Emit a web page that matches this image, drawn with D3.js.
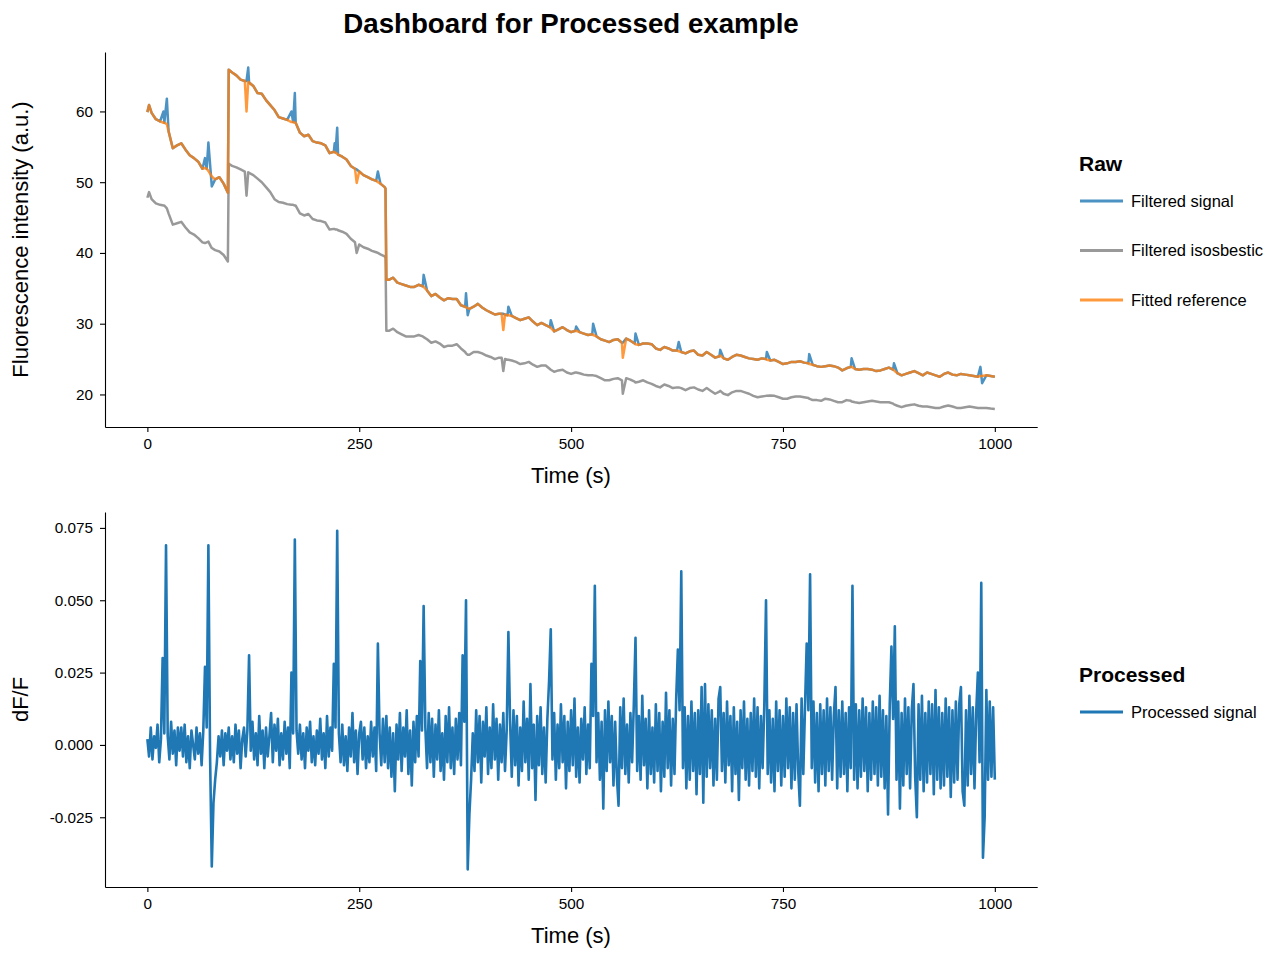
<!DOCTYPE html>
<html>
<head>
<meta charset="utf-8">
<script src="https://cdn.jsdelivr.net/npm/d3@7"></script>
<style>
  body { margin: 0; background: #fff; }
  svg { font-family: "Liberation Sans", Arial, Helvetica, sans-serif; }
</style>
</head>
<body>
<svg id="dashboard"></svg>
<script>
// ---- raw panel (time in s, values in a.u.) ----
const rawTime = [
  0, 2, 5, 10, 15, 19, 20, 23, 25, 30, 35, 40, 45,
  50, 55, 60, 65, 68, 70, 72, 75, 76, 80, 85, 90, 95, 96,
  100, 105, 110, 115, 117, 119, 120, 125, 130, 135, 140, 145,
  150, 155, 160, 165, 170, 172, 174, 175, 180, 185, 190, 195,
  200, 205, 210, 215, 220, 221, 222, 224, 225, 230, 235, 240, 245, 247,
  250, 255, 260, 265, 270, 272, 275, 280, 281, 282, 285, 290, 295,
  300, 305, 310, 315, 320, 325, 326, 330, 335, 340, 345,
  350, 355, 360, 365, 370, 375, 376, 378, 380, 385, 390, 395,
  400, 405, 410, 415, 418, 420, 422, 425, 426, 430, 435, 440, 445,
  450, 455, 460, 465, 470, 475, 476, 480, 485, 490, 495,
  500, 505, 506, 510, 515, 520, 525, 526, 530, 535, 540, 545,
  550, 555, 560, 561, 565, 570, 575, 576, 580, 585, 590, 595,
  600, 605, 610, 615, 620, 625, 627, 630, 635, 640, 645,
  650, 655, 660, 665, 670, 675, 676, 680, 685, 690, 695,
  700, 705, 710, 715, 720, 725, 730, 731, 735, 740, 745,
  750, 755, 760, 765, 770, 775, 780, 781, 785, 790, 795,
  800, 805, 810, 815, 820, 825, 830, 831, 835, 840, 845,
  850, 855, 860, 865, 870, 875, 880, 881, 885, 890, 895,
  900, 905, 910, 915, 920, 925, 930, 935, 940, 945,
  950, 955, 960, 965, 970, 975, 980, 983, 985, 990, 995, 1000
];

const filteredSignal = [
  59.9, 60.9, 59.8, 58.9, 58.6, 60.0, 58.4, 61.8, 57.2, 54.8, 55.2, 55.5, 54.6,
  53.8, 53.4, 52.9, 51.9, 53.4, 51.9, 55.6, 51.0, 49.4, 50.4, 50.7, 49.8, 48.5, 65.9,
  65.5, 65.1, 64.5, 64.3, 64.3, 66.2, 64.1, 63.6, 62.6, 62.5, 61.6, 60.9,
  60.2, 59.2, 59.0, 58.8, 60.0, 58.5, 62.6, 58.4, 57.0, 56.5, 56.7, 55.8,
  55.6, 55.5, 55.2, 54.1, 54.3, 55.5, 54.2, 57.7, 53.9, 53.6, 53.2, 52.3, 51.9, 51.8,
  51.5, 51.0, 50.7, 50.4, 50.2, 51.5, 49.8, 49.3, 49.1, 36.2, 36.2, 36.5, 35.8,
  35.6, 35.4, 35.2, 35.2, 35.5, 35.3, 36.9, 34.7, 33.9, 34.2, 33.7,
  33.3, 33.6, 33.5, 33.5, 32.6, 32.4, 34.3, 31.2, 32.1, 32.4, 32.8, 32.3,
  31.9, 31.6, 31.3, 31.4, 31.4, 31.4, 31.3, 31.2, 32.4, 31.1, 30.8, 30.5, 30.7,
  30.9, 30.3, 29.8, 30.1, 29.8, 29.5, 30.5, 28.9, 29.2, 29.5, 29.1,
  28.8, 29.0, 29.6, 28.8, 28.6, 28.4, 28.5, 30.0, 28.2, 27.8, 27.6, 27.4,
  27.7, 27.8, 27.3, 27.3, 27.9, 27.6, 27.2, 28.6, 27.0, 27.2, 27.2, 27.1,
  26.5, 26.3, 26.7, 26.5, 26.2, 26.2, 27.4, 26.0, 25.8, 26.1, 26.2,
  25.6, 25.5, 26.0, 25.6, 25.2, 25.4, 26.3, 25.1, 24.9, 25.3, 25.6,
  25.5, 25.3, 25.1, 25.0, 24.9, 25.1, 25.0, 26.0, 24.8, 24.9, 24.6,
  24.3, 24.4, 24.6, 24.6, 24.7, 24.5, 24.4, 25.7, 24.2, 24.0, 23.9,
  24.0, 24.1, 24.0, 23.8, 23.4, 23.7, 23.9, 25.1, 23.6, 23.5, 23.6,
  23.6, 23.5, 23.3, 23.4, 23.6, 23.8, 23.5, 24.4, 23.0, 22.7, 22.9,
  23.1, 23.3, 23.0, 22.7, 23.1, 22.9, 22.7, 22.5, 22.9, 23.1,
  22.8, 22.7, 22.9, 22.8, 22.7, 22.6, 22.5, 23.9, 21.6, 22.7, 22.6, 22.5
];

const filteredIsosbestic = [
  47.8, 48.6, 47.6, 47.0, 46.8, 46.7, 46.7, 46.3, 45.6, 44.0, 44.2, 44.4, 43.6,
  42.9, 42.6, 42.1, 41.5, 41.4, 41.5, 41.6, 40.9, 40.7, 40.4, 40.2, 39.7, 38.8, 52.6,
  52.3, 52.1, 51.8, 51.5, 48.1, 51.4, 51.3, 51.0, 50.5, 50.0, 49.3, 48.6,
  47.6, 47.2, 47.1, 46.9, 46.8, 46.8, 46.7, 46.7, 45.6, 45.3, 45.5, 44.8,
  44.6, 44.5, 44.3, 43.3, 43.4, 43.4, 43.3, 43.3, 43.2, 43.0, 42.7, 42.0, 41.5, 40.0,
  41.2, 40.8, 40.6, 40.3, 40.1, 40.0, 39.8, 39.5, 39.3, 29.0, 29.0, 29.3, 28.8,
  28.5, 28.2, 28.2, 28.2, 28.4, 28.2, 28.1, 27.8, 27.3, 27.5, 27.2,
  26.7, 26.9, 26.9, 27.1, 26.5, 26.0, 25.8, 25.6, 25.6, 26.0, 26.0, 25.8,
  25.5, 25.3, 25.0, 25.2, 25.2, 23.3, 25.0, 24.9, 24.9, 24.8, 24.6, 24.3, 24.4,
  24.6, 24.2, 23.9, 24.1, 24.1, 23.6, 23.5, 23.2, 23.4, 23.5, 23.1,
  22.9, 23.1, 23.1, 23.0, 22.8, 22.7, 22.7, 22.7, 22.6, 22.3, 22.0, 22.0,
  22.2, 22.3, 22.0, 20.1, 22.3, 22.1, 21.8, 21.7, 21.8, 22.0, 21.7, 21.5,
  21.2, 21.0, 21.4, 21.2, 20.9, 21.0, 21.0, 20.9, 20.6, 20.9, 21.0,
  20.7, 20.5, 20.9, 20.5, 20.1, 20.4, 20.5, 20.1, 19.9, 20.3, 20.5,
  20.5, 20.3, 20.1, 19.8, 19.6, 19.7, 19.8, 19.8, 19.85, 19.8, 19.6,
  19.4, 19.4, 19.6, 19.7, 19.7, 19.6, 19.5, 19.4, 19.2, 19.2, 19.1,
  19.4, 19.3, 19.1, 18.9, 18.9, 19.2, 19.1, 19.0, 18.9, 18.8, 18.9,
  19.0, 19.1, 19.0, 18.9, 18.9, 18.9, 18.7, 18.6, 18.4, 18.2, 18.4,
  18.5, 18.6, 18.4, 18.3, 18.3, 18.2, 18.1, 18.1, 18.3, 18.45,
  18.3, 18.1, 18.1, 18.2, 18.3, 18.2, 18.1, 18.1, 18.1, 18.1, 18.0, 17.95
];

const fittedReference = [
  59.9, 60.9, 59.8, 58.9, 58.6, 58.4, 58.4, 58.2, 57.2, 54.8, 55.2, 55.5, 54.6,
  53.8, 53.4, 52.9, 51.9, 52.0, 51.9, 51.6, 51.0, 50.8, 50.4, 50.7, 49.8, 48.5, 65.9,
  65.5, 65.1, 64.5, 64.3, 60.0, 64.2, 64.1, 63.6, 62.6, 62.5, 61.6, 60.9,
  60.2, 59.2, 59.0, 58.8, 58.5, 58.5, 58.4, 58.4, 57.0, 56.5, 56.7, 55.8,
  55.6, 55.5, 55.2, 54.1, 54.3, 54.2, 54.2, 54.0, 53.9, 53.6, 53.2, 52.3, 51.9, 49.9,
  51.5, 51.0, 50.7, 50.4, 50.2, 50.0, 49.8, 49.3, 49.1, 36.2, 36.2, 36.5, 35.8,
  35.6, 35.4, 35.2, 35.2, 35.5, 35.3, 35.2, 34.7, 33.9, 34.2, 33.7,
  33.3, 33.6, 33.5, 33.5, 32.6, 32.4, 32.3, 32.2, 32.1, 32.4, 32.8, 32.3,
  31.9, 31.6, 31.3, 31.4, 31.4, 29.1, 31.3, 31.2, 31.2, 31.1, 30.8, 30.5, 30.7,
  30.9, 30.3, 29.8, 30.1, 29.8, 29.5, 29.4, 28.9, 29.2, 29.5, 29.1,
  28.8, 29.0, 29.0, 28.8, 28.6, 28.4, 28.5, 28.4, 28.2, 27.8, 27.6, 27.4,
  27.7, 27.8, 27.3, 25.2, 27.9, 27.6, 27.2, 27.1, 27.0, 27.2, 27.2, 27.1,
  26.5, 26.3, 26.7, 26.5, 26.2, 26.2, 26.1, 26.0, 25.8, 26.1, 26.2,
  25.6, 25.5, 26.0, 25.6, 25.2, 25.4, 25.5, 25.1, 24.9, 25.3, 25.6,
  25.5, 25.3, 25.1, 25.0, 24.9, 25.1, 25.0, 24.9, 24.8, 24.9, 24.6,
  24.3, 24.4, 24.6, 24.6, 24.7, 24.5, 24.4, 24.3, 24.2, 24.0, 23.9,
  24.0, 24.1, 24.0, 23.8, 23.4, 23.7, 23.9, 23.9, 23.6, 23.5, 23.6,
  23.6, 23.5, 23.3, 23.4, 23.6, 23.8, 23.5, 23.4, 23.0, 22.7, 22.9,
  23.1, 23.3, 23.0, 22.7, 23.1, 22.9, 22.7, 22.5, 22.9, 23.1,
  22.8, 22.7, 22.9, 22.8, 22.7, 22.6, 22.5, 22.6, 22.6, 22.7, 22.6, 22.5
];

// ---- processed panel: one dF/F sample every 2 s from 0 to 1000 s ----
const processedStep = 2;
const processedSignal = [
  0.002, -0.004, 0.006, -0.005, 0.003, -0.001, 0.007, -0.006, 0.002, 0.030,
  0.004, 0.069, 0.003, -0.005, 0.008, -0.003, 0.005, -0.007, 0.006, -0.002,
  0.006, -0.004, 0.007, -0.006, 0.003, -0.008, 0.005, 0.000, -0.005, 0.006,
  -0.003, 0.004, -0.007, 0.005, 0.027, 0.006, 0.069, -0.004, -0.042, -0.020,
  -0.012, -0.006, 0.003, -0.004, 0.005, -0.007, 0.004, -0.002, 0.006, -0.005,
  0.003, -0.006, 0.007, -0.003, 0.005, -0.008, 0.002, 0.006, -0.004, 0.005,
  0.031, -0.002, 0.008, -0.005, 0.004, -0.007, 0.010, -0.003, 0.005, -0.008,
  0.006, -0.004, 0.003, 0.011, -0.006, 0.007, -0.002, 0.009, -0.007, 0.004,
  -0.005, 0.008, -0.003, 0.006, -0.008, 0.025, 0.004, 0.071, 0.005, -0.003,
  0.007, -0.005, 0.004, -0.008, 0.006, -0.002, 0.008, -0.006, 0.003, -0.007,
  0.005, -0.003, 0.009, -0.005, 0.004, -0.008, 0.010, -0.004, 0.006, -0.002,
  0.028, 0.006, 0.074, 0.004, -0.006, 0.007, -0.007, 0.003, -0.009, 0.006,
  -0.004, 0.011, -0.006, 0.005, -0.010, 0.004, 0.008, -0.005, 0.006, -0.008,
  0.003, -0.006, 0.008, -0.004, 0.006, -0.009, 0.035, 0.004, -0.007, 0.009,
  -0.006, 0.010, -0.008, 0.006, -0.011, 0.004, -0.016, 0.007, -0.005, 0.011,
  -0.009, 0.006, -0.004, 0.012, -0.010, 0.005, -0.014, 0.008, -0.006, 0.010,
  -0.004, 0.029, 0.005, 0.048, 0.006, -0.008, 0.011, -0.006, 0.009, -0.011,
  0.007, -0.005, 0.012, -0.009, 0.004, -0.012, 0.010, -0.006, 0.013, -0.008,
  0.006, -0.010, 0.009, -0.005, 0.011, -0.007, 0.031, 0.008, 0.050, -0.043,
  -0.024, -0.012, 0.004, -0.009, 0.012, -0.006, 0.010, -0.013, 0.008, -0.004,
  0.013, -0.010, 0.006, -0.008, 0.014, -0.005, 0.009, -0.012, 0.007, -0.006,
  0.011, -0.009, 0.005, 0.039, 0.008, -0.011, 0.012, -0.007, 0.010, -0.014,
  0.006, -0.009, 0.015, -0.006, 0.009, -0.012, 0.021, -0.008, 0.007, -0.019,
  0.010, -0.007, 0.013, -0.010, 0.006, -0.013, 0.009, 0.022, 0.040, -0.005,
  0.011, -0.012, 0.007, -0.008, 0.014, -0.006, 0.010, -0.015, 0.008, -0.009,
  0.012, -0.007, 0.016, -0.011, 0.006, -0.013, 0.009, -0.005, 0.013, -0.010,
  0.007, -0.008, 0.028, 0.010, 0.055, -0.006, 0.011, -0.012, 0.008, -0.022,
  0.012, -0.009, 0.015, -0.006, 0.010, -0.014, 0.008, -0.011, -0.021, 0.013,
  -0.008, 0.016, -0.010, 0.007, -0.013, 0.011, -0.006, 0.014, 0.037, -0.009,
  0.010, -0.012, 0.017, -0.007, 0.009, -0.015, 0.012, -0.010, 0.006, -0.013,
  0.014, -0.009, 0.011, -0.016, 0.008, -0.011, 0.018, -0.008, 0.012, -0.014,
  0.009, -0.010, 0.016, 0.033, 0.012, 0.060, -0.008, 0.013, -0.015, 0.010,
  -0.012, 0.015, -0.009, 0.011, -0.017, 0.012, -0.010, 0.020, -0.020, 0.021,
  -0.011, 0.014, -0.008, 0.012, -0.014, 0.009, -0.012, 0.016, 0.020, -0.009,
  0.011, -0.013, 0.015, -0.007, 0.010, -0.016, 0.013, -0.010, 0.008, -0.019,
  0.012, -0.008, 0.015, -0.012, 0.009, -0.014, 0.011, -0.009, 0.016, -0.011,
  0.013, -0.015, 0.010, -0.008, 0.014, 0.050, -0.010, 0.012, -0.013, 0.009,
  -0.016, 0.015, -0.009, 0.012, -0.014, 0.010, -0.011, 0.016, -0.008, 0.013,
  -0.015, 0.011, -0.012, 0.014, -0.009, -0.021, 0.016, -0.010, 0.013, 0.035,
  0.012, 0.059, -0.008, 0.015, -0.013, 0.011, -0.016, 0.014, -0.010, 0.012,
  -0.014, 0.016, -0.009, 0.013, -0.012, 0.010, 0.020, -0.015, 0.012, -0.011,
  0.015, -0.010, 0.011, -0.016, 0.013, -0.008, 0.055, -0.012, 0.014, -0.015,
  0.012, -0.011, 0.016, -0.009, 0.013, -0.016, 0.011, -0.012, 0.015, -0.010,
  0.013, -0.014, 0.017, -0.011, 0.012, -0.015, 0.010, -0.024, 0.014, 0.034,
  0.009, 0.041, -0.012, 0.015, -0.022, 0.011, -0.014, 0.016, -0.010, 0.013,
  -0.015, 0.012, 0.021, -0.011, -0.025, 0.014, -0.012, 0.017, -0.016, 0.011,
  -0.013, 0.015, -0.010, 0.014, -0.017, 0.019, -0.012, 0.013, -0.015, 0.011,
  -0.014, 0.016, -0.011, 0.013, -0.018, 0.012, -0.013, 0.015, -0.012, 0.014,
  0.020, -0.016, -0.021, 0.012, -0.014, 0.017, -0.010, 0.013, -0.015, 0.011,
  0.025, -0.006, 0.056, -0.039, -0.025, 0.019, -0.012, 0.015, -0.011, 0.013,
  -0.012
];

const timeTicks = [0, 250, 500, 750, 1000];
const timeTickLabels = ["0", "250", "500", "750", "1000"];
const rawTicks = [20, 30, 40, 50, 60];
const dffTicks = [-0.025, 0, 0.025, 0.05, 0.075];
const dffTickLabels = ["-0.025", "0.000", "0.025", "0.050", "0.075"];

const rawNames = ["Filtered signal", "Filtered isosbestic", "Fitted reference"];
const rawColors = ["#1f77b4", "#7f7f7f", "#ff7f0e"];
const processedNames = ["Processed signal"];

document.addEventListener('DOMContentLoaded', function() {
    const svg = d3.select("#dashboard"),
        width = 1280,
        height = 960;

    svg.attr("width", width).attr("height", height);

    const x = d3.scaleLinear().domain([-50, 1050]).range([105, 1037.2]);
    const yRaw = d3.scaleLinear().domain([15.4, 68.4]).range([427, 52]);
    const yDff = d3.scaleLinear().domain([-0.0491, 0.0805]).range([887, 512]);

    const styleAxis = g => {
        g.attr("font-size", null).attr("font-family", null);
        g.selectAll("text").style("font-size", "15.3px").style("fill", "#000");
        g.selectAll("line, path").style("stroke", "#000").style("stroke-width", 1.1);
    };

    const timeAxis = () => d3.axisBottom(x)
        .tickValues(timeTicks)
        .tickFormat((d, i) => timeTickLabels[i])
        .tickSize(5).tickPadding(6).tickSizeOuter(0);

    // title
    svg.append("text")
        .attr("x", 571).attr("y", 33)
        .attr("text-anchor", "middle")
        .style("font-size", "27.7px")
        .style("font-weight", "bold")
        .text("Dashboard for Processed example");

    // ---------- raw panel ----------
    svg.append("g")
        .attr("transform", "translate(0,427)")
        .call(timeAxis())
        .call(styleAxis);

    svg.append("g")
        .attr("transform", "translate(105,0)")
        .call(d3.axisLeft(yRaw).tickValues(rawTicks).tickSize(5).tickPadding(7).tickSizeOuter(0))
        .call(styleAxis);

    const rawSeries = [filteredSignal, filteredIsosbestic, fittedReference];
    const rawLine = d3.line()
        .x((d, i) => x(rawTime[i]))
        .y(d => yRaw(d));

    svg.append("g").selectAll("path")
        .data(rawSeries)
        .enter().append("path")
        .attr("d", rawLine)
        .attr("fill", "none")
        .attr("stroke", (d, i) => rawColors[i])
        .attr("stroke-opacity", 0.8)
        .attr("stroke-width", 2.5)
        .attr("stroke-linejoin", "round");

    svg.append("text")
        .attr("x", 571).attr("y", 483)
        .attr("text-anchor", "middle")
        .style("font-size", "22px")
        .text("Time (s)");

    svg.append("text")
        .attr("transform", "translate(28,239.5) rotate(-90)")
        .attr("text-anchor", "middle")
        .style("font-size", "22px")
        .text("Fluorescence intensity (a.u.)");

    // ---------- processed panel ----------
    svg.append("g")
        .attr("transform", "translate(0,887)")
        .call(timeAxis())
        .call(styleAxis);

    svg.append("g")
        .attr("transform", "translate(105,0)")
        .call(d3.axisLeft(yDff).tickValues(dffTicks).tickSize(5).tickPadding(7).tickSizeOuter(0)
            .tickFormat((d, i) => dffTickLabels[i]))
        .call(styleAxis);

    const dffLine = d3.line()
        .x((d, i) => x(i * processedStep))
        .y(d => yDff(d));

    svg.append("path")
        .datum(processedSignal)
        .attr("d", dffLine)
        .attr("fill", "none")
        .attr("stroke", "#1f77b4")
        .attr("stroke-width", 2.6)
        .attr("stroke-linejoin", "round");

    svg.append("text")
        .attr("x", 571).attr("y", 943)
        .attr("text-anchor", "middle")
        .style("font-size", "22px")
        .text("Time (s)");

    svg.append("text")
        .attr("transform", "translate(28,699.5) rotate(-90)")
        .attr("text-anchor", "middle")
        .style("font-size", "22px")
        .text("dF/F");

    // ---------- legends ----------
    function legend(top, title, names, colors, opacity, gap) {
        const g = svg.append("g").attr("transform", `translate(1079,${top})`);
        g.append("text")
            .attr("x", 0).attr("y", 0)
            .style("font-size", "21px")
            .style("font-weight", "bold")
            .text(title);
        names.forEach((name, i) => {
            const yy = 30 + i * gap;
            g.append("line")
                .attr("x1", 1).attr("x2", 44)
                .attr("y1", yy).attr("y2", yy)
                .attr("stroke", colors[i])
                .attr("stroke-opacity", opacity)
                .attr("stroke-width", 3);
            g.append("text")
                .attr("x", 52).attr("y", yy)
                .attr("dy", "0.35em")
                .style("font-size", "16.5px")
                .text(name);
        });
    }

    legend(171, "Raw", rawNames, rawColors, 0.8, 49.5);
    legend(682, "Processed", processedNames, ["#1f77b4"], 1, 0);
});
</script>
</body>
</html>
